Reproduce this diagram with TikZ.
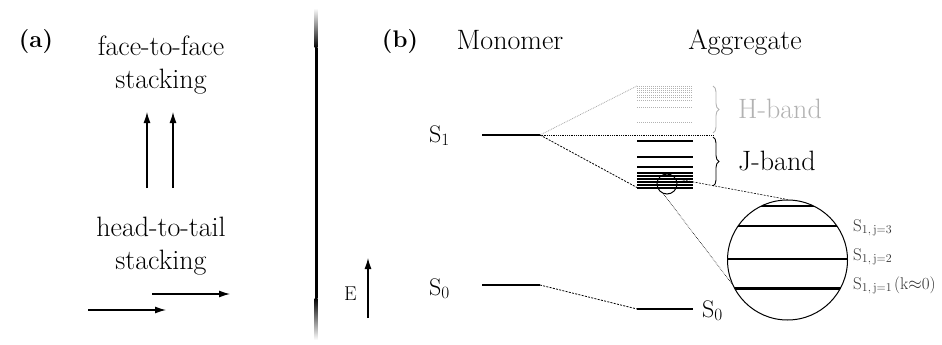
\documentclass[tikz,border=0pt]{standalone}
\usetikzlibrary{arrows.meta, positioning, decorations.pathreplacing}

\begin{document}
\begin{tikzpicture}[x=1pt, y=-1pt,
  lbl/.style={font=\fontsize{28}{33}\selectfont, inner sep=0pt, align=center},
  tag/.style={font=\fontsize{24}{26}\selectfont\bfseries, inner sep=0pt},
  state/.style={font=\fontsize{24}{26}\selectfont, inner sep=0pt, anchor=base west},
  sublbl/.style={font=\fontsize{17}{19}\selectfont, text=black!80, inner sep=0pt, anchor=base west},
  arrow/.style={-{Latex[length=11pt, width=7pt]}, line width=1.2pt},
  level/.style={line width=2.8pt},
  jlevel/.style={line width=2pt},
  hlevel/.style={line width=1pt, gray!60, densely dotted},
  conn/.style={dash pattern=on 2pt off 1.3pt, line width=0.8pt},
  hconn/.style={densely dotted, gray!70, line width=0.8pt},
  brace/.style={decorate, decoration={brace, amplitude=6pt}, line width=0.9pt}
]
  \useasboundingbox (0,0) rectangle (942,345);

  % (a) stacking geometries
  \node[tag] (taga) at (36,42) {(a)};
  \node[lbl, anchor=north] (ftf) at (161,36) {face-to-face\\stacking};
  \node[lbl, anchor=north] (htt) at (161,217) {head-to-tail\\stacking};
  \draw[arrow] (147,188) -- (147,112);
  \draw[arrow] (173,188) -- (173,112);
  \draw[arrow] (88,310) -- (166,310);
  \draw[arrow] (152,294) -- (230,294);

  % separator
  \shade[top color=white, bottom color=black] (314.5,8) rectangle (317.5,48);
  \fill (314.5,48) rectangle (317.5,298);
  \shade[top color=black, bottom color=white] (314.5,298) rectangle (317.5,340);

  % (b) energy levels
  \node[tag] (tagb) at (400,42) {(b)};
  \node[lbl, anchor=base] (mono) at (510,50) {Monomer};
  \node[lbl, anchor=base] (aggr) at (745,50) {Aggregate};

  \draw[level] (482,135) coordinate (m1l) -- (540,135) coordinate (m1r);
  \draw[level] (482,285) coordinate (m0l) -- (540,285) coordinate (m0r);
  \node[state] (s1m) at (429,142) {S$_1$};
  \node[state] (s0m) at (429,295) {S$_0$};

  % H-band
  \foreach \y in {86,88,90,92.5,95,97.5,100.5,107.5,122}
    \draw[hlevel] (637,\y) -- (693,\y);
  \coordinate (htop) at (637,86);
  % J-band
  \foreach \y in {141,157,167,173,176,179,182,185}
    \draw[jlevel] (637,\y) -- (693,\y);
  \draw[jlevel] (637,187.5) coordinate (jbot) -- (693,187.5);
  % aggregate ground state
  \draw[level] (637,309) coordinate (a0l) -- (693,309);
  \node[state] (s0a) at (702,317) {S$_0$};

  \draw[hconn] (m1r) -- (htop);
  \coordinate (hjend) at (714,135);
  \draw[densely dotted, line width=0.8pt] (m1r) -- (hjend);
  \draw[conn] (m1r) -- (jbot);
  \draw[conn] (m0r) -- (a0l);

  \draw[brace, gray!60] (713,86) -- (713,133);
  \draw[brace] (713,137) -- (713,186);
  \node[lbl, text=gray!60, anchor=west] (hband) at (738,109) {H-band};
  \node[lbl, anchor=west] (jband) at (738,161) {J-band};

  % energy axis
  \draw[arrow] (368,318) -- (368,258);
  \node[state, font=\fontsize{20}{22}\selectfont] (eaxis) at (344,300) {E};

  % magnified bottom of the J-band
  \node[circle, draw, minimum size=20pt, inner sep=0pt, line width=1pt] (zoomsrc) at (667,184) {};
  \node[circle, draw, minimum size=120pt, inner sep=0pt, line width=1pt] (zoombig) at (787.5,260) {};
  \begin{scope}
    \clip (787.5,260) circle[radius=60pt];
    \draw[line width=1.2pt] (720,206) -- (860,206);
    \draw[line width=1.2pt] (720,226) -- (860,226);
    \draw[line width=1.2pt] (720,259) -- (860,259);
    \draw[line width=3pt] (720,288) -- (860,288);
  \end{scope}
  \draw[conn, line width=0.6pt] (zoomsrc.30) -- (zoombig.north);
  \draw[densely dotted, line width=0.6pt] (zoomsrc.250) -- (zoombig.203);

  \node[sublbl] (j3) at (853,231) {S$_{1,\,\mathrm{j}=3}$};
  \node[sublbl] (j2) at (853,260) {S$_{1,\,\mathrm{j}=2}$};
  \node[sublbl] (j1) at (853,289) {S$_{1,\,\mathrm{j}=1}$\kern2pt(k$\approx$0)};
\end{tikzpicture}
\end{document}
